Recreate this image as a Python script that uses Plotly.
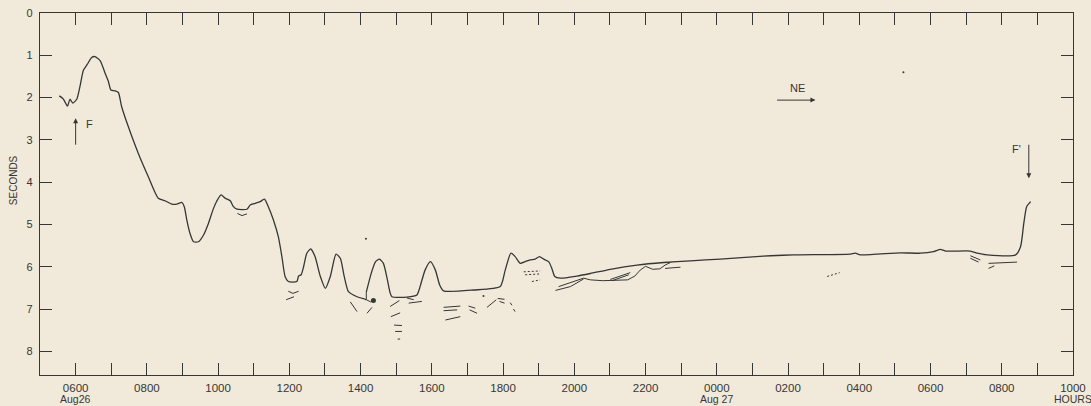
import plotly.graph_objects as go

# Hours counted from 0000 Aug 26; seconds (travel time)
main_hours = [5.54, 5.65, 5.77, 5.84, 5.92, 6.03, 6.12, 6.22, 6.33, 6.45, 6.54, 6.69, 6.83, 6.92, 6.99,
              7.11, 7.20, 7.29, 7.48, 7.76, 8.04, 8.32, 8.51, 8.70, 8.84, 8.98, 9.05, 9.12, 9.21, 9.31,
              9.45, 9.59, 9.73, 9.87, 9.96, 10.08, 10.20, 10.34, 10.43, 10.53, 10.81, 10.90, 11.04, 11.18,
              11.30, 11.41, 11.55, 11.69, 11.79, 11.88, 11.97, 12.21, 12.26, 12.33, 12.40, 12.49, 12.60,
              12.72, 12.87, 13.01, 13.15, 13.31, 13.43, 13.54, 13.66, 13.90, 14.13, 14.16, None, 14.16, 14.30,
              14.42, 14.53, 14.64, 14.75, 14.83, 14.88, 15.30, 15.58, 15.67, 15.81, 15.96, 16.10, 16.22,
              16.33, 17.17, 17.92, 18.06, 18.22, 18.34, 18.48, 18.62, 18.76, 18.90, 19.02, 19.14, 19.28,
              19.37, 19.45, 19.61, 20.07, 20.45, 21.01, 21.76, 22.51, 23.26, 24.10, 25.11, 25.51, 26.16,
              27.75, 27.89, 28.03, 29.16, 29.72, 30.09, 30.28, 30.42, 31.12, 31.31, 31.59, 32.39, 32.53,
              32.62, 32.70, 32.81]
main_seconds = [1.96, 2.03, 2.20, 2.04, 2.13, 2.04, 1.74, 1.35, 1.21, 1.05, 1.03, 1.13, 1.43, 1.62, 1.82,
                1.84, 1.88, 2.21, 2.69, 3.32, 3.87, 4.38, 4.44, 4.52, 4.52, 4.48, 4.58, 4.89, 5.21, 5.41,
                5.41, 5.25, 4.97, 4.62, 4.45, 4.30, 4.38, 4.44, 4.58, 4.64, 4.64, 4.54, 4.50, 4.46,
                4.40, 4.58, 4.89, 5.29, 5.76, 6.23, 6.35, 6.35, 6.22, 6.19, 6.00, 5.68, 5.58,
                5.76, 6.23, 6.51, 6.23, 5.70, 5.80, 6.23, 6.59, 6.71, 6.77, 6.78, None, 6.60, 6.15,
                5.88, 5.82, 5.92, 6.30, 6.62, 6.71, 6.72, 6.67, 6.47, 6.08, 5.88, 6.08, 6.43,
                6.57, 6.55, 6.47, 6.08, 5.68, 5.76, 5.92, 5.88, 5.84, 5.82, 5.76, 5.82, 5.88,
                6.04, 6.23, 6.27, 6.22, 6.16, 6.06, 5.96, 5.90, 5.86, 5.82, 5.76, 5.74, 5.72,
                5.70, 5.68, 5.72, 5.67, 5.68, 5.64, 5.59, 5.63, 5.63, 5.68, 5.72, 5.72, 5.52,
                4.97, 4.58, 4.46]

# Secondary (weaker) arrival traces: pairs of (hours, seconds) lists
frag_hours = [
    [10.54, 10.67, 10.81], [11.97, 12.10, 12.26], [11.91, 12.02, 12.13],
    [13.71, 13.90], [14.18, 14.32], [14.16, 14.16], [14.16, 14.28, 14.36],
    [14.83, 15.09], [14.85, 15.11], [14.94, 15.16], [14.97, 15.16], [15.04, 15.11],
    [15.30, 15.49], [15.35, 15.72],
    [16.33, 16.80], [16.33, 16.71], [16.38, 16.80],
    [17.03, 17.22], [17.06, 17.27], [17.55, 17.81], [17.85, 18.04], [17.90, 18.04],
    [18.20, 18.25], [18.29, 18.34],
    [19.47, 19.89, 20.26],
    [19.56, 19.89, 20.26, 20.45, 20.80, 21.50, 21.70, 21.85, 22.00, 22.20, 22.40, 22.55, 22.70],
    [22.55, 22.98], [21.01, 21.57], [21.06, 21.53],
    [31.12, 31.40], [31.12, 31.35], [31.63, 31.79], [31.63, 32.43],
]
frag_seconds = [
    [4.74, 4.79, 4.75], [6.58, 6.63, 6.58], [6.78, 6.75, 6.71],
    [6.83, 7.06], [7.10, 6.96], [6.78, 6.60], [6.78, 6.83, 6.80],
    [6.94, 6.80], [7.18, 7.09], [7.38, 7.39], [7.53, 7.53], [7.71, 7.71],
    [6.74, 6.78], [6.86, 6.82],
    [6.96, 6.93], [7.04, 7.02], [7.26, 7.18],
    [6.93, 6.98], [7.02, 7.10], [6.96, 6.78], [6.75, 6.77], [6.82, 6.86],
    [6.85, 6.91], [7.00, 7.06],
    [6.56, 6.47, 6.29],
    [6.47, 6.38, 6.27, 6.31, 6.33, 6.31, 6.22, 6.08, 5.99, 6.06, 6.05, 5.96, 5.90],
    [6.04, 6.01], [6.30, 6.14], [6.33, 6.19],
    [5.74, 5.84], [5.80, 5.89], [6.04, 5.98], [5.92, 5.89],
]

dotted_hours = [[18.58, 19.04], [18.62, 19.04], [18.81, 19.04], [27.10, 27.45]]
dotted_seconds = [[6.12, 6.10], [6.19, 6.17], [6.35, 6.31], [6.23, 6.14]]

dot_hours = [14.36]
dot_seconds = [6.80]
speck_hours = [14.15, 17.45, 29.24]
speck_seconds = [5.34, 6.69, 1.40]

tick_hours = list(range(6, 35))
label_hours = list(range(6, 35, 2))
sub_label_hours = [6, 24, 34]
sub_labels = ["Aug26", "Aug 27", "HOURS"]
y_ticks = [0, 1, 2, 3, 4, 5, 6, 7, 8]

INK = "#363636"
BG = "#f1eada"

def join(hs, ss):
    xs, ys = [], []
    for h, s in zip(hs, ss):
        xs += h + [None]
        ys += s + [None]
    return xs, ys

fig = go.Figure()
fig.add_trace(go.Scatter(x=main_hours, y=main_seconds, mode="lines", connectgaps=False,
                         line=dict(color=INK, width=1.3, shape="spline", smoothing=0.6),
                         hoverinfo="skip", showlegend=False))
fx, fy = join(frag_hours, frag_seconds)
fig.add_trace(go.Scatter(x=fx, y=fy, mode="lines", line=dict(color=INK, width=1.0),
                         connectgaps=False, hoverinfo="skip", showlegend=False))
dx, dy = join(dotted_hours, dotted_seconds)
fig.add_trace(go.Scatter(x=dx, y=dy, mode="lines", line=dict(color=INK, width=1.0, dash="2px,2px"),
                         connectgaps=False, hoverinfo="skip", showlegend=False))
fig.add_trace(go.Scatter(x=dot_hours, y=dot_seconds, mode="markers",
                         marker=dict(color=INK, size=5), hoverinfo="skip", showlegend=False))
fig.add_trace(go.Scatter(x=speck_hours, y=speck_seconds, mode="markers",
                         marker=dict(color=INK, size=2), hoverinfo="skip", showlegend=False))

ticktext = [f"{h % 24:02d}00" if h in label_hours else "" for h in tick_hours]

FONT = "Liberation Sans, Arial, sans-serif"

fig.update_layout(
    width=1091, height=406,
    margin=dict(l=40, r=18, t=13, b=31, autoexpand=False),
    paper_bgcolor=BG, plot_bgcolor=BG,
    font=dict(family=FONT, size=11, color=INK),
    showlegend=False,
    xaxis=dict(range=[4.999, 34.001], tickvals=tick_hours, ticktext=ticktext,
               ticks="inside", ticklen=12, tickwidth=1.2, tickcolor=INK,
               showline=True, linecolor=INK, linewidth=1.2, mirror="ticks",
               showgrid=False, zeroline=False, tickfont=dict(size=11.5, family=FONT),
               ticklabelstandoff=2, automargin=False, ticklabeloverflow="allow"),
    yaxis=dict(range=[8.56, 0], tickvals=y_ticks, ticktext=[str(v) for v in y_ticks],
               ticks="inside", ticklen=12, tickwidth=1.2, tickcolor=INK,
               showline=True, linecolor=INK, linewidth=1.2, mirror="ticks",
               showgrid=False, zeroline=False, tickfont=dict(size=11, family=FONT),
               ticklabelstandoff=4, automargin=False, ticklabeloverflow="allow"),
)

for h, t in zip(sub_label_hours, sub_labels):
    fig.add_annotation(x=h, xref="x", y=-0.066, yref="paper", text=t, showarrow=False,
                       font=dict(size=10.5, color=INK), xanchor="center", yanchor="middle")

arrow = dict(showarrow=True, arrowhead=2, arrowsize=1.0, arrowwidth=1, arrowcolor=INK,
             axref="x", ayref="y", xref="x", yref="y", text="")
# F arrow (pointing up)
fig.add_annotation(x=6.0, y=2.49, ax=6.0, ay=3.15, **arrow)
fig.add_annotation(x=6.38, y=2.63, text="F", showarrow=False, font=dict(size=11, color=INK))
# F' arrow (pointing down)
fig.add_annotation(x=32.76, y=3.91, ax=32.76, ay=3.08, **arrow)
fig.add_annotation(x=32.42, y=3.22, text="F'", showarrow=False, font=dict(size=11, color=INK))
# NE direction arrow
fig.add_annotation(x=26.77, y=2.06, ax=25.65, ay=2.06, **arrow)
fig.add_annotation(x=26.26, y=1.77, text="NE", showarrow=False, font=dict(size=11, color=INK))
# y-axis title
fig.add_annotation(xref="paper", yref="y", x=-0.026, y=3.95, text="SECONDS", textangle=-90,
                   showarrow=False, font=dict(size=10, color=INK), xanchor="center")

fig.write_html("out.html", config={"displayModeBar": False},
               post_script="document.body.style.margin='0';document.body.style.background='%s';" % BG)
